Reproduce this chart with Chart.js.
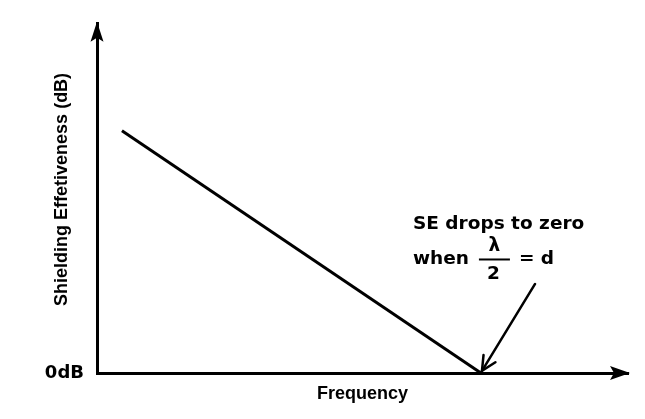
<!DOCTYPE html>
<html><head><meta charset="utf-8">
<script src="https://cdn.jsdelivr.net/npm/chart.js@4/dist/chart.umd.min.js"></script>
<style>html,body{margin:0;padding:0;background:#fff}#wrap{width:645px;height:419px}</style>
</head><body><div id="wrap"><canvas id="c" width="645" height="419"></canvas></div>
<script>
// ---- data (arbitrary linear units 0..100 on both axes) ----
const frequency = [4.7, 72.3];
const shielding = [69.4, 0];
const yTickValues = [0];
const yTickLabels = ['0dB'];
const xTitle = 'Frequency';
const yTitle = 'Shielding Effetiveness (dB)';
const noteLines = ['SE drops to zero', 'when'];
const noteFraction = ['\u03BB', '2'];
const noteTail = '= d';
const noteArrowFrom = [82.5, 25.5];
const noteArrowTo = [72.5, 0.6];
const noteTextAt = [59.5, 41.1];

const titleFont = {family: '"Liberation Sans", Arial, sans-serif', size: 18, weight: 'bold'};
const noteFontCss = 'bold 18.5px "DejaVu Sans", Verdana, sans-serif';

const decor = {
  id: 'decor',
  afterDraw(chart) {
    const ctx = chart.ctx;
    const {left, right, top, bottom} = chart.chartArea;
    const xs = chart.scales.x, ys = chart.scales.y;
    ctx.save();
    ctx.fillStyle = '#000';
    ctx.strokeStyle = '#000';
    // y axis arrowhead
    ctx.beginPath();
    ctx.moveTo(left, top - 2);
    ctx.lineTo(left - 6.5, top + 18);
    ctx.lineTo(left, top + 14);
    ctx.lineTo(left + 6.5, top + 18);
    ctx.closePath(); ctx.fill();
    // x axis arrowhead
    ctx.beginPath();
    ctx.moveTo(right + 2, bottom);
    ctx.lineTo(right - 18, bottom - 7);
    ctx.lineTo(right - 14, bottom);
    ctx.lineTo(right - 18, bottom + 7);
    ctx.closePath(); ctx.fill();

    // y title
    ctx.font = 'bold 18px "Liberation Sans", Arial, sans-serif';
    ctx.textAlign = 'center';
    ctx.textBaseline = 'middle';
    ctx.save();
    ctx.translate(62, (top + bottom) / 2 - 9);
    ctx.rotate(-Math.PI / 2);
    ctx.fillText(yTitle, 0, 0);
    ctx.restore();

    // annotation text
    const tx = xs.getPixelForValue(noteTextAt[0]);
    const ty = ys.getPixelForValue(noteTextAt[1]);
    ctx.font = noteFontCss;
    ctx.textAlign = 'left';
    ctx.textBaseline = 'alphabetic';
    ctx.fillText(noteLines[0], tx, ty);
    ctx.fillText(noteLines[1], tx, ty + 35);
    const w = ctx.measureText(noteLines[1]).width;
    const fx0 = tx + w + 10, fx1 = fx0 + 31, fc = (fx0 + fx1) / 2;
    ctx.fillRect(fx0, ty + 29, fx1 - fx0, 2);
    ctx.textAlign = 'center';
    ctx.fillText(noteFraction[0], fc, ty + 22);
    ctx.fillText(noteFraction[1], fc - 1, ty + 50);
    ctx.textAlign = 'left';
    ctx.fillText(noteTail, fx1 + 9, ty + 35);

    // annotation arrow
    const ax0 = xs.getPixelForValue(noteArrowFrom[0]), ay0 = ys.getPixelForValue(noteArrowFrom[1]);
    const ax1 = xs.getPixelForValue(noteArrowTo[0]), ay1 = ys.getPixelForValue(noteArrowTo[1]);
    ctx.lineWidth = 2.5;
    ctx.lineCap = 'round';
    ctx.beginPath(); ctx.moveTo(ax0, ay0); ctx.lineTo(ax1, ay1); ctx.stroke();
    const ang = Math.atan2(ay0 - ay1, ax0 - ax1);
    const L = 16, spread = 0.45;
    ctx.beginPath();
    ctx.moveTo(ax1 + L * Math.cos(ang - spread), ay1 + L * Math.sin(ang - spread));
    ctx.lineTo(ax1, ay1);
    ctx.lineTo(ax1 + L * Math.cos(ang + spread), ay1 + L * Math.sin(ang + spread));
    ctx.stroke();
    ctx.restore();
  }
};

new Chart(document.getElementById('c'), {
  type: 'line',
  data: {
    datasets: [{
      data: frequency.map((x, i) => ({x, y: shielding[i]})),
      borderColor: '#000',
      borderWidth: 3,
      pointRadius: 0,
      fill: false,
      tension: 0
    }]
  },
  options: {
    responsive: false,
    animation: false,
    layout: {padding: {top: 20, right: 17, left: 0, bottom: 0}},
    plugins: {legend: {display: false}, tooltip: {enabled: false}},
    scales: {
      x: {
        type: 'linear', min: 0, max: 100,
        grid: {display: false, drawTicks: false},
        border: {display: true, color: '#000', width: 3},
        ticks: {display: false},
        title: {display: true, text: xTitle, color: '#000', font: titleFont, padding: {top: 0, bottom: 14}},
        afterFit(s) { s.height = 46; }
      },
      y: {
        type: 'linear', min: 0, max: 100,
        grid: {display: false, drawTicks: false},
        border: {display: true, color: '#000', width: 3},
        afterBuildTicks(s) { s.ticks = yTickValues.map(v => ({value: v})); },
        ticks: {
          color: '#000', padding: 13,
          font: {family: '"DejaVu Sans", Verdana, sans-serif', size: 18, weight: 'bold'},
          callback: v => { const i = yTickValues.indexOf(v); return i >= 0 ? yTickLabels[i] : ''; }
        },
        title: {display: false},
        afterFit(s) { s.width = 97; }
      }
    }
  },
  plugins: [decor]
});
</script></body></html>
